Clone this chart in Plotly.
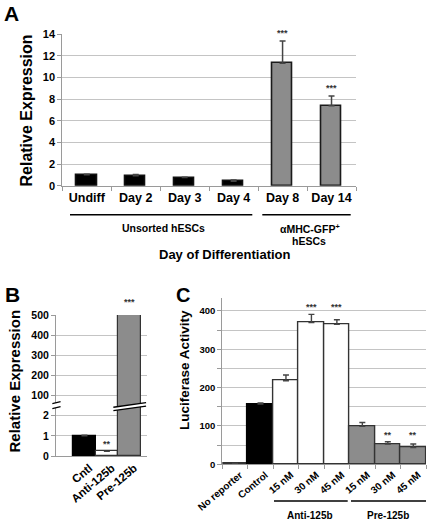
import plotly.graph_objects as go

W, H = 430, 522
FONT = "Liberation Sans"

# ---------------- Data ----------------
# Panel A
a_categories = ["Undiff", "Day 2", "Day 3", "Day 4", "Day 8", "Day 14"]
a_values = [1.0, 0.92, 0.75, 0.42, 11.3, 7.37]
a_errors = [0.05, 0.12, 0.04, 0.1, 2.05, 0.9]
a_groups = ["unsorted", "unsorted", "unsorted", "unsorted", "sorted", "sorted"]
a_sig = ["", "", "", "", "***", "***"]
a_yticks = [0, 2, 4, 6, 8, 10, 12, 14]

# Panel B (broken axis: 0,1,2 | 100..500)
b_categories = ["Cntl", "Anti-125b", "Pre-125b"]
b_values = [1.0, 0.23, 505]
b_errors = [0.04, 0.0, 25]
b_groups = ["control", "anti", "pre"]
b_sig = ["", "**", "***"]
b_tick_values = [0, 1, 2, 100, 200, 300, 400, 500]

# Panel C
c_categories = ["No reporter", "Control", "15 nM", "30 nM", "45 nM", "15 nM", "30 nM", "45 nM"]
c_values = [2, 157, 218, 370, 365, 99, 53, 44]
c_errors = [0, 3, 15, 21, 12, 10, 6, 9]
c_groups = ["none", "control", "anti", "anti", "anti", "pre", "pre", "pre"]
c_sig = ["", "", "", "***", "***", "", "**", "**"]
c_yticks = [0, 100, 200, 300, 400]
c_minor_ticks = [50, 150, 250, 350]

# ---------------- Styles ----------------
GRAY = "#8c8c8c"
fill_map = {"unsorted": "#000000", "sorted": GRAY, "control": "#000000",
            "anti": "#ffffff", "pre": GRAY, "none": "#ffffff"}
edge_map = {"unsorted": "#111111", "sorted": "#1a1a1a", "control": "#000000",
            "anti": "#333333", "pre": "#333333", "none": "#333333"}
GRID = "#c4c4c4"
AXIS = "#9a9a9a"


def px(x):
    return x / W


def py(y):
    return 1 - y / H


def b_pos(v):
    return v if v <= 2 else 2 + v / 100.0


B_RANGE = [0, 7]

fig = go.Figure()

# Panel A bars
fig.add_trace(go.Bar(
    x=list(range(len(a_values))), y=a_values, width=0.41, cliponaxis=False,
    marker=dict(color=[fill_map[g] for g in a_groups],
                line=dict(color=[edge_map[g] for g in a_groups], width=1.6)),
    error_y=dict(type="data", array=a_errors, arrayminus=[0] * len(a_errors), symmetric=False,
                 color="#444444", thickness=1.5, width=3),
    xaxis="x", yaxis="y", showlegend=False, hoverinfo="skip"))

# Panel B bars
b_y = [b_pos(v) for v in b_values]
b_err = [b_pos(v + e) - b_pos(v) for v, e in zip(b_values, b_errors)]
fig.add_trace(go.Bar(
    x=list(range(len(b_values))), y=b_y, width=1.0, cliponaxis=False,
    marker=dict(color=[fill_map[g] for g in b_groups],
                line=dict(color=[edge_map[g] for g in b_groups], width=1.2)),
    error_y=dict(type="data", array=b_err, arrayminus=[0] * len(b_err), symmetric=False,
                 color="#444444", thickness=1.3, width=3),
    xaxis="x2", yaxis="y2", showlegend=False, hoverinfo="skip"))

# Panel C bars
fig.add_trace(go.Bar(
    x=list(range(len(c_values))), y=c_values, width=1.0, cliponaxis=False,
    marker=dict(color=[fill_map[g] for g in c_groups],
                line=dict(color=[edge_map[g] for g in c_groups], width=1.4)),
    error_y=dict(type="data", array=c_errors, arrayminus=[0] * len(c_errors), symmetric=False,
                 color="#444444", thickness=1.4, width=3),
    xaxis="x3", yaxis="y3", showlegend=False, hoverinfo="skip"))


def bold(s, c="#000000"):
    return dict(family=FONT, size=s, color=c, weight="bold")


ann = []
# significance stars
for i, s in enumerate(a_sig):
    if s:
        ann.append(dict(x=i, y=a_values[i] + a_errors[i], xref="x", yref="y", text=s,
                        yanchor="bottom", yshift=1, font=bold(9, "#333")))
for i, s in enumerate(b_sig):
    if s:
        top = (b_y[i] + b_err[i] - B_RANGE[0]) / (B_RANGE[1] - B_RANGE[0])
        ann.append(dict(x=i, y=top, xref="x2", yref="y2 domain", text=s,
                        yanchor="bottom", yshift=0, font=bold(9, "#333")))
for s in sorted(set(c_sig) - {""}):
    idx = [i for i, t in enumerate(c_sig) if t == s]
    top = max(c_values[i] + c_errors[i] for i in idx)
    for i in idx:
        ann.append(dict(x=i, y=top, xref="x3", yref="y3", text=s,
                        yanchor="bottom", yshift=0, font=bold(9, "#333")))

# panel letters and titles
ann += [
    dict(x=px(11.5), y=py(13.5), text="A", font=bold(21)),
    dict(x=px(12.5), y=py(294), text="B", font=bold(21)),
    dict(x=px(183), y=py(295), text="C", font=bold(20)),
    dict(x=px(25.5), y=py(111), text="Relative Expression", textangle=-90, font=bold(16)),
    dict(x=px(13.5), y=py(381), text="Relative Expression", textangle=-90, font=bold(15)),
    dict(x=px(184), y=py(370), text="Luciferase Activity", textangle=-90, font=bold(13.5)),
    dict(x=px(225.5), y=py(254), text="Day of Differentiation", font=bold(13)),
    dict(x=px(163), y=py(228), text="Unsorted hESCs", font=bold(10.5)),
    dict(x=px(310), y=py(228), text="αMHC-GFP<sup>+</sup>", font=bold(10.5)),
    dict(x=px(308.5), y=py(241), text="hESCs", font=bold(10.5)),
    dict(x=px(310), y=py(515), text="Anti-125b", font=bold(10)),
    dict(x=px(388.3), y=py(515), text="Pre-125b", font=bold(10)),
]
for a in ann:
    a.setdefault("xref", "paper")
    a.setdefault("yref", "paper")
    a.setdefault("xanchor", "center")
    a.setdefault("yanchor", "middle")
    a["showarrow"] = False

shapes = []
# group underline bars
for (x0, x1, y) in [(70, 252.3, 214.7), (262.3, 350.7, 214.7), (274, 347.7, 501), (351, 426, 501)]:
    shapes.append(dict(type="line", xref="paper", yref="paper", x0=px(x0), x1=px(x1),
                       y0=py(y), y1=py(y), line=dict(color="#000000", width=1.6)))

# axis break on panel B y-axis
shapes.append(dict(type="path", xref="x2 domain", yref="y2",
                   path="M -0.04,2.35 L 0.05,2.45 L 0.05,2.7 L -0.04,2.6 Z",
                   fillcolor="#ffffff", line=dict(width=0)))
for yy in (2.35, 2.6):
    shapes.append(dict(type="line", xref="x2 domain", yref="y2", x0=-0.04, x1=0.05,
                       y0=yy, y1=yy + 0.1, line=dict(color="#000000", width=1.2)))
# break on the Pre-125b bar
shapes.append(dict(type="path", xref="x2", yref="y2",
                   path="M 1.29,2.25 L 2.75,2.48 L 2.75,2.65 L 1.29,2.42 Z",
                   fillcolor="#ffffff", line=dict(width=0)))
for (y0, y1) in [(2.25, 2.48), (2.42, 2.65)]:
    shapes.append(dict(type="line", xref="x2", yref="y2", x0=1.29, x1=2.75,
                       y0=y0, y1=y1, line=dict(color="#000000", width=1.3)))

common_y = dict(showgrid=True, gridcolor=GRID, gridwidth=1, showline=True, linecolor=AXIS,
                linewidth=1, ticks="outside", ticklen=4, tickcolor=AXIS, zeroline=False,
                automargin=False)
common_x = dict(showgrid=False, showline=True, linecolor=AXIS, linewidth=1, zeroline=False,
                automargin=False)

fig.update_layout(
    template="none",
    width=W, height=H, autosize=False,
    margin=dict(l=0, r=0, t=0, b=0, pad=0),
    paper_bgcolor="#ffffff", plot_bgcolor="#ffffff",
    bargap=0,
    font=dict(family=FONT, color="#000000"),
    xaxis=dict(domain=[px(62.3), px(356)], range=[-0.5, 5.5], anchor="y",
               tickmode="array", tickvals=list(range(len(a_categories))), ticktext=a_categories,
               ticks="", tickfont=bold(12.5),
               minor=dict(tickmode="array", tickvals=[i - 0.5 for i in range(len(a_categories) + 1)],
                          ticks="outside", ticklen=4, tickcolor=AXIS, showgrid=False),
               **common_x),
    yaxis=dict(domain=[py(185.7), py(34)], range=[0, 14], anchor="x",
               tickmode="array", tickvals=a_yticks, tickfont=bold(11), **common_y),
    xaxis2=dict(domain=[px(56), px(147)], range=[-1.27, 2.79], anchor="y2",
                tickmode="array", tickvals=list(range(len(b_categories))), ticktext=b_categories,
                tickangle=-40, ticks="", tickfont=bold(11.5), ticklabelshift=5, **common_x),
    yaxis2=dict(domain=[py(456), py(315)], range=B_RANGE, anchor="x2",
                tickmode="array", tickvals=[b_pos(v) for v in b_tick_values],
                ticktext=[str(v) for v in b_tick_values], tickfont=bold(10.5), **common_y),
    xaxis3=dict(domain=[px(222.3), px(426)], range=[-0.5, 7.5], anchor="y3",
                tickmode="array", tickvals=list(range(len(c_categories))), ticktext=c_categories,
                tickangle=-40, ticks="", tickfont=bold(10), ticklabelshift=5,
                minor=dict(tickmode="array", tickvals=[i - 0.5 for i in range(len(c_categories) + 1)],
                           ticks="outside", ticklen=4, tickcolor=AXIS, showgrid=False),
                **common_x),
    yaxis3=dict(domain=[py(464.3), py(298.3)], range=[0, 433], anchor="x3",
                tickmode="array", tickvals=c_yticks, tickfont=bold(9.5),
                minor=dict(tickmode="array", tickvals=c_minor_ticks, ticks="outside", ticklen=4,
                           tickcolor=AXIS, showgrid=True, gridcolor=GRID, gridwidth=1),
                **common_y),
    annotations=ann,
    shapes=shapes,
)

fig.write_html("out.html", config={"displayModeBar": False},
               post_script="document.body.style.margin='0';")
